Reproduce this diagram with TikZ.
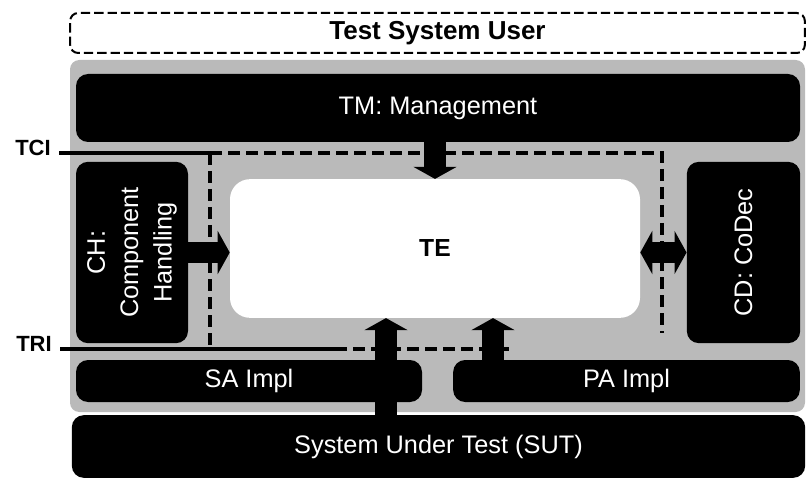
\documentclass[tikz,border=0pt]{standalone}
\usepackage{fontspec}
\setmainfont{Liberation Sans}
\usetikzlibrary{arrows.meta}

\begin{document}
\begin{tikzpicture}[x=0.75pt, y=-0.75pt,
  blackbox/.style={fill=black, rounded corners=9pt, inner sep=0pt},
  boxtext/.style={text=white, font=\fontsize{19}{25}\selectfont},
  iface/.style={line width=2.4pt, dash pattern=on 9pt off 4.5pt},
  ifline/.style={line width=2.4pt},
  ifname/.style={font=\bfseries\fontsize{16.5}{18}\selectfont},
  bigarrow/.style={line width=16pt, -{Triangle[width=32pt, length=9pt]}}]
  \useasboundingbox (0,0) rectangle (807,481);
  % user and gray test system
  \node[draw, line width=1.5pt, dash pattern=on 7pt off 3pt, rounded corners=6pt,
    minimum width=551pt, minimum height=30pt,
    font=\bfseries\fontsize{19.5}{22}\selectfont] (tsu) at (437.5,33) {Test System User};
  \fill[black!27, rounded corners=7pt] (70,60) rectangle (805,412);
  % entities
  \node[blackbox, minimum width=543pt, minimum height=51pt] (tm) at (438,108) {};
  \node[boxtext] (tmlabel) at (tm) {TM: Management};
  \node[blackbox, minimum width=84pt, minimum height=136pt] (ch) at (132,252.5) {};
  \node[boxtext, rotate=90, align=center] (chlabel) at (ch) {CH:\\Component\\Handling};
  \node[blackbox, minimum width=85pt, minimum height=136pt] (cd) at (743.5,252.5) {};
  \node[boxtext, rotate=90] (cdlabel) at (cd) {CD: CoDec};
  \node[fill=white, rounded corners=15pt, minimum width=307.5pt, minimum height=104pt,
    font=\bfseries\fontsize{18.5}{20}\selectfont] (te) at (435,248.5) {TE};
  \node[blackbox, minimum width=259.5pt, minimum height=31.5pt] (sa) at (249,381) {};
  \node[boxtext] (salabel) at (sa) {SA Impl};
  \node[blackbox, minimum width=260pt, minimum height=31.5pt] (pa) at (626.5,381) {};
  \node[boxtext] (palabel) at (pa) {PA Impl};
  \node[blackbox, minimum width=550pt, minimum height=47pt] (sut) at (438.5,446.5) {};
  \node[boxtext] (sutlabel) at (sut) {System Under Test (SUT)};
  % interfaces
  \node[ifname] (tci) at (33,148) {TCI};
  \node[ifname] (tri) at (34,344) {TRI};
  \coordinate (ifnw) at (210,153);
  \coordinate (ifne) at (662,153);
  \coordinate (ifse) at (662,333);
  \coordinate (ifsw) at (210,349);
  \coordinate (trimid) at (335,349);
  \coordinate (ifend) at (513,349);
  \draw[ifline] ([xshift=3pt]tci.east |- ifnw) -- (ifnw);
  \draw[iface] (ifnw) -- (ifne) -- (ifse);
  \draw[iface] (ifnw) -- (ifsw);
  \draw[ifline] ([xshift=3pt]tri.east |- ifsw) -- (trimid);
  \draw[iface] (trimid) -- (ifend);
  % flows into TE
  \coordinate (sutport) at (386,0);
  \coordinate (paport) at (493,0);
  \draw[bigarrow] (tm.south -| te.north) -- (te.north);
  \draw[bigarrow] (ch.east) -- (te.west |- ch.east);
  \draw[bigarrow, {Triangle[width=32pt, length=9pt]}-{Triangle[width=32pt, length=9pt]}]
    (te.east |- cd.west) -- (cd.west);
  \draw[bigarrow] (sut.north -| sutport) -- (te.south -| sutport);
  \draw[bigarrow] (pa.north -| paport) -- (te.south -| paport);
\end{tikzpicture}
\end{document}
